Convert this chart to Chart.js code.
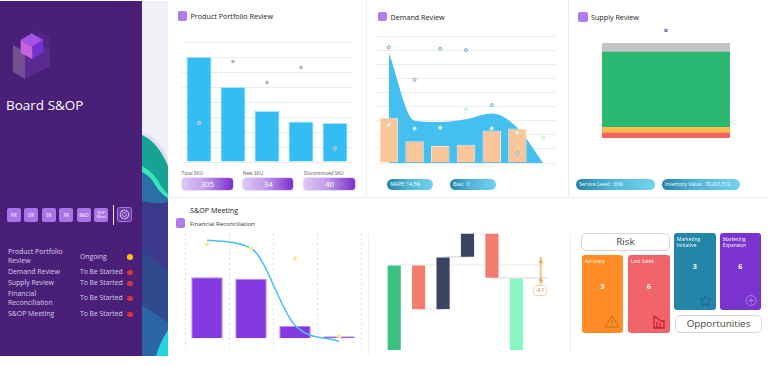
<!DOCTYPE html>
<html>
<head>
<meta charset="utf-8">
<title>Board S&amp;OP</title>
<script src="https://cdn.jsdelivr.net/npm/chart.js@4"></script>
<style>
    html, body { margin: 0; padding: 0; background: #fff; }
    body { width: 768px; height: 366px; overflow: hidden; position: relative; font-family: "Open Sans", sans-serif; color: #333; }
    canvas, .abs, svg { position: absolute; }
    .abs { white-space: nowrap; line-height: 1; }
    .side { color: #d9cdea; font-size: 6.9px; left: 8px; }
    .state { color: #d9cdea; font-size: 6.8px; left: 80px; }
    .dot { width: 5.5px; height: 5.5px; border-radius: 50%; left: 127px; }
    .nav { width: 14px; height: 14.5px; top: 207.5px; background: #a974e8; border-radius: 2px; color: #efe6fb; font-size: 4.5px; font-weight: 600; display: flex; align-items: center; justify-content: center; text-align: center; white-space: normal; }
    .icon { width: 9.5px; height: 9.5px; background: #b07ceb; border-radius: 2px; }
    .title { font-size: 7.2px; color: #222; }
    .small { font-size: 4.8px; color: #555; }
    .pill { height: 14px; top: 177.3px; border-radius: 4px; background: linear-gradient(90deg, #dcc8f4, #c09cea 45%, #7b2fc9); border: 1px solid #eadcf8; box-sizing: border-box; color: #fff; font-size: 8px; display: flex; align-items: center; justify-content: center; }
    .kpi { height: 11px; top: 179px; border-radius: 5.5px; background: linear-gradient(90deg, #2386a9, #50b5d8 45%, #74d2f0); color: #fff; font-size: 5px; display: flex; align-items: center; padding-left: 3px; box-sizing: border-box; }
    .box { height: 18.3px; border: 1px solid #d6d6d8; border-radius: 5px; background: #fff; box-sizing: border-box; display: flex; align-items: center; justify-content: center; color: #444; font-size: 9.8px; }
    .tile { border-radius: 3px; color: #fff; }
    .tile b { position: absolute; left: 3px; top: 3px; font-size: 4.9px; font-weight: 400; line-height: 1.35; white-space: normal; width: 36px; }
    .tile i { position: absolute; left: 0; right: 0; text-align: center; font-style: normal; font-weight: 700; font-size: 7.5px; }
</style>
</head>
<body>
    <!-- side panel -->
    <div class="abs" style="left:0;top:1px;width:142px;height:355px;background:#4a1f78"></div>
    <svg style="left:142px;top:1px" width="26" height="355" viewBox="142 1 26 355">
        <rect x="142" y="1" width="26" height="355" fill="#eef0f5"/>
        <path d="M142 131 Q158 138 168 158 V210 H142Z" fill="#e3dff0"/>
        <path d="M142 135 Q158 142 168 166 V210 H142Z" fill="#16a394"/>
        <path d="M142 168 Q156 176 168 200 V210 H142Z" fill="#2a70a8"/>
        <path d="M142 166 Q154 172 161 186 Q164 191 168 194 V198 Q160 194 154 183 Q150 176 142 172Z" fill="#3be5b8"/>
        <path d="M142 201 Q156 205 168 202 V356 H142Z" fill="#3c3a8c"/>
        <path d="M142 250 L168 272 V356 H142Z" fill="#2f4a8c"/>
        <path d="M142 305 L168 322 V356 H142Z" fill="#2a66a6"/>
        <path d="M156 356 Q160 342 168 330 V356Z" fill="#25d3d8"/>
    </svg>
    <svg style="left:0;top:0" width="70" height="90">
        <polygon points="13,45 25,52 25,79 13,72" fill="#71518f"/>
        <polygon points="25,52 50,38 50,66 25,79" fill="#5a2a92"/>
        <polygon points="38,30 50,36 50,50 38,44" fill="#522588"/>
        <polygon points="20.7,40 31.7,33.3 43.3,40 32.5,46.5" fill="#a553ea"/>
        <polygon points="20.7,40 32.5,46.5 32.7,59.3 20.7,52.7" fill="#c662dc"/>
        <polygon points="32.5,46.5 43.3,40 43.3,51.7 32.7,59.3" fill="#7432d4"/>
    </svg>
    <div class="abs" style="left:6px;top:96px;font-size:13.5px;color:#fff;line-height:18px">Board S&amp;OP</div>
    <div class="abs nav" style="left:6.7px">PR</div>
    <div class="abs nav" style="left:24px">DR</div>
    <div class="abs nav" style="left:41.7px">SR</div>
    <div class="abs nav" style="left:59.3px">FR</div>
    <div class="abs nav" style="left:77px">R&amp;O</div>
    <div class="abs nav" style="left:94.3px;font-size:3.8px;line-height:1.1">SOP Meet</div>
    <div class="abs" style="left:112.5px;top:205px;width:1px;height:20px;background:#e8e0f2"></div>
    <svg style="left:117px;top:207px" width="15" height="15">
        <rect x=".5" y=".5" width="14" height="14" rx="2" fill="#6b39a6" stroke="#a974e8"/>
        <circle cx="7.5" cy="7.5" r="4.2" fill="none" stroke="#d9cdea" stroke-width="1.2" stroke-dasharray="2 .6"/>
        <circle cx="7.5" cy="7.5" r="2" fill="none" stroke="#d9cdea" stroke-width=".8"/>
    </svg>
    <div class="abs side" style="top:249px">Product Portfolio</div>
    <div class="abs side" style="top:258px">Review</div>
    <div class="abs side" style="top:269px">Demand Review</div>
    <div class="abs side" style="top:280px">Supply Review</div>
    <div class="abs side" style="top:290.5px">Financial</div>
    <div class="abs side" style="top:300px">Reconciliation</div>
    <div class="abs side" style="top:311px">S&amp;OP Meeting</div>
    <div class="abs state" style="top:253.5px">Ongoing</div>
    <div class="abs state" style="top:269px">To Be Started</div>
    <div class="abs state" style="top:280px">To Be Started</div>
    <div class="abs state" style="top:295px">To Be Started</div>
    <div class="abs state" style="top:311px">To Be Started</div>
    <div class="abs dot" style="top:254px;background:#ffc107"></div>
    <div class="abs dot" style="top:269.5px;background:#e0352f"></div>
    <div class="abs dot" style="top:280.5px;background:#e0352f"></div>
    <div class="abs dot" style="top:295.5px;background:#e0352f"></div>
    <div class="abs dot" style="top:311.5px;background:#e0352f"></div>

    <!-- panel dividers -->
    <div class="abs" style="left:168px;top:197px;width:600px;height:1px;background:#eeeef1"></div>
    <div class="abs" style="left:365.5px;top:0;width:1.5px;height:197px;background:#eeeef1"></div>
    <div class="abs" style="left:567.5px;top:0;width:1.5px;height:197px;background:#eeeef1"></div>
    <div class="abs" style="left:368px;top:234px;width:1px;height:121px;background:#f0f0f3"></div>
    <div class="abs" style="left:570px;top:234px;width:1px;height:121px;background:#f0f0f3"></div>

    <!-- headings -->
    <div class="abs icon" style="left:177.5px;top:11px"></div>
    <div class="abs title" style="left:190.5px;top:13px">Product Portfolio Review</div>
    <div class="abs icon" style="left:377.7px;top:11.5px"></div>
    <div class="abs title" style="left:390.5px;top:13.5px">Demand Review</div>
    <div class="abs icon" style="left:578px;top:12px"></div>
    <div class="abs title" style="left:591px;top:14px">Supply Review</div>
    <div class="abs title" style="left:190px;top:207px">S&amp;OP Meeting</div>
    <div class="abs icon" style="left:175.7px;top:218px"></div>
    <div class="abs" style="left:190px;top:220.5px;font-size:6px">Financial Reconciliation</div>

    <canvas id="portfolioChart" width="176" height="126" style="left:179px;top:39px"></canvas>
    <canvas id="demandChart" width="186" height="133" style="left:372.5px;top:33px"></canvas>
    <canvas id="supplyChart" width="134" height="124" style="left:598.7px;top:17px"></canvas>
    <canvas id="financeChart" width="182" height="122" style="left:182.3px;top:230px"></canvas>
    <canvas id="bridgeChart" width="177" height="123" style="left:378.5px;top:230px"></canvas>

    <!-- kpi pills -->
    <div class="abs small" style="left:181.5px;top:170.5px">Total SKU</div>
    <div class="abs small" style="left:242.8px;top:170.5px">New SKU</div>
    <div class="abs small" style="left:304px;top:170.5px">Discontinued SKU</div>
    <div class="abs pill" style="left:181px;width:52.7px">305</div>
    <div class="abs pill" style="left:242.3px;width:52px">34</div>
    <div class="abs pill" style="left:303.3px;width:52.4px">40</div>
    <div class="abs kpi" style="left:387.3px;width:46px">MAPE: 14.5%</div>
    <div class="abs kpi" style="left:450px;width:46px">Bias: &nbsp;0</div>
    <div class="abs kpi" style="left:576.3px;width:78.4px">Service Level: &nbsp;30%</div>
    <div class="abs kpi" style="left:661.7px;width:78.3px">Inventory Value: &nbsp;78,201,512</div>

    <!-- bridge callout -->
    <div class="abs" style="left:533px;top:285px;width:14px;height:11px;border:1px solid #fbd3ae;border-radius:3px;background:#fff;box-sizing:border-box;font-size:4.6px;color:#c98a55;display:flex;align-items:center;justify-content:center">-4.3</div>

    <!-- risk and opportunity tiles -->
    <div class="abs box" style="left:581.3px;top:232.7px;width:88.4px">Risk</div>
    <div class="abs box" style="left:674.7px;top:314.7px;width:87.6px">Opportunities</div>
    <div class="abs tile" style="left:581.7px;top:255.3px;width:41.6px;height:77.7px;background:#ff8c26"><b>Accuracy</b><i style="top:28px">3</i></div>
    <div class="abs tile" style="left:628px;top:255.3px;width:41.7px;height:77.7px;background:#f0646a"><b>Lost Sales</b><i style="top:28px">6</i></div>
    <div class="abs tile" style="left:674px;top:232.7px;width:41.7px;height:77.6px;background:#2386a9"><b>Marketing Initiative</b><i style="top:30px">3</i></div>
    <div class="abs tile" style="left:719.7px;top:232.7px;width:41.6px;height:77.6px;background:#7a33cc"><b>Marketing Expansion</b><i style="top:30px">6</i></div>
    <svg style="left:0;top:0;pointer-events:none" width="768" height="366">
        <path d="M612 316 L619 327 H605Z" fill="none" stroke="#c9701f" stroke-width="1"/>
        <path d="M612 320 V323.5 M612 325 V326" stroke="#c9701f" stroke-width="1"/>
        <path d="M654 316 L661 321 H664 V328 H654Z M657 322 V328 M660 323 V328" fill="none" stroke="#c8202c" stroke-width="1.3"/>
        <path d="M705.5 295 L707 299 L711 299.3 L708 302 L709 306 L705.5 303.8 L702 306 L703 302 L700 299.3 L704 299Z" fill="none" stroke="#1a6486" stroke-width="1"/>
        <circle cx="751" cy="300.5" r="5" fill="none" stroke="#b88ee8" stroke-width=".8"/>
        <path d="M748 300.5 H754 M751 297.5 V303.5" stroke="#b88ee8" stroke-width=".8"/>
    </svg>

<script>
    // Product Portfolio Review
    const portfolioLabels = ['A', 'B', 'C', 'D', 'E'];
    const portfolioBars = [70, 50, 34, 27, 26];
    const portfolioDots = [26, 67, 53, 63, 9];

    // Demand Review
    const demandLabels = ['M1', 'M2', 'M3', 'M4', 'M5', 'M6', 'M7'];
    const demandArea = [78, 30, 29, 31, 35, 25, 0];
    const demandBars = [32, 15.5, 12, 13, 23, 24.5, null];
    const demandDotsBlue = [82, 59, 81, 80, 41, 7, null];
    const demandDotsGreen = [27, 24.5, 25, 38, 24.5, 21.6, 18];

    // Supply Review
    const supplyLabels = ['Supply'];
    const supplyRed = [5];
    const supplyOrange = [5.5];
    const supplyGreen = [75];
    const supplyGrey = [8.5];
    const supplyTarget = [107];

    // Financial Reconciliation
    const financeLabels = ['Q1', 'Q2', 'Q3', 'Q4'];
    const financeBars = [61, 59.6, 12.3, 2];
    const financeLine = [98, 90, 13, -3];
    const financeDots = [94, 90, 79.6, 2];

    // Bridge
    const bridgeLow = [0, 40.7, 40.7, 93, 72, 0];
    const bridgeHigh = [85, 85, 93, 116.7, 116.7, 72];
    const bridgeColors = ['#3cc183', '#f47c6e', '#3a4661', '#3a4661', '#f47c6e', '#8af5be'];
    const gapRange = [93, 65];
    const gapMarks = [88, 69.7];

    const PAD = 3;

    function baseOptions(yMin, yMax, yStep, showGrid) {
        return {
            responsive: false,
            animation: false,
            layout: { padding: PAD, autoPadding: false },
            plugins: { legend: { display: false }, tooltip: { enabled: false } },
            scales: {
                x: {
                    offset: true,
                    ticks: { display: false },
                    grid: { display: false, drawTicks: false },
                    border: { display: false },
                    afterFit: s => { s.height = 0; }
                },
                y: {
                    min: yMin,
                    max: yMax,
                    ticks: { display: false, stepSize: yStep },
                    grid: { display: showGrid, drawTicks: false, color: '#ececee' },
                    border: { display: false },
                    afterFit: s => { s.width = 0; }
                }
            }
        };
    }

    function dotSet(values, fill, stroke, radius) {
        return {
            type: 'line',
            data: values,
            showLine: false,
            pointRadius: radius,
            pointBackgroundColor: fill,
            pointBorderColor: stroke,
            pointBorderWidth: 1,
            order: 0
        };
    }

    new Chart(document.getElementById('portfolioChart'), {
        data: {
            labels: portfolioLabels,
            datasets: [
                dotSet(portfolioDots, '#8fa8b8', '#c3d4de', 1.6),
                {
                    type: 'bar',
                    data: portfolioBars,
                    backgroundColor: '#33bdf2',
                    borderColor: '#a9e3fa',
                    borderWidth: 1,
                    barPercentage: 0.74,
                    categoryPercentage: 1,
                    order: 1
                }
            ]
        },
        options: baseOptions(0, 80, 10, true)
    });

    new Chart(document.getElementById('demandChart'), {
        data: {
            labels: demandLabels,
            datasets: [
                dotSet(demandDotsBlue, '#dce7ee', '#7fb0cc', 1.6),
                dotSet(demandDotsGreen, '#f2fbf6', '#b5ecd2', 1.6),
                {
                    type: 'bar',
                    data: demandBars,
                    backgroundColor: '#fbc79a',
                    borderColor: '#fde3cc',
                    borderWidth: 1,
                    barPercentage: 0.72,
                    categoryPercentage: 1,
                    order: 1
                },
                {
                    type: 'line',
                    data: demandArea,
                    fill: 'origin',
                    backgroundColor: '#44c0f0',
                    borderWidth: 0,
                    pointRadius: 0,
                    cubicInterpolationMode: 'monotone',
                    order: 2
                }
            ]
        },
        options: baseOptions(0, 90, 10, true)
    });

    new Chart(document.getElementById('supplyChart'), {
        data: {
            labels: supplyLabels,
            datasets: [
                {
                    type: 'line',
                    data: supplyTarget,
                    showLine: false,
                    pointStyle: 'rect',
                    pointRadius: 1.6,
                    pointBackgroundColor: '#e8ecf4',
                    pointBorderColor: '#5c6ca8',
                    order: 0
                },
                { type: 'bar', data: supplyRed, backgroundColor: '#f4645f', order: 1 },
                { type: 'bar', data: supplyOrange, backgroundColor: '#fdbb4f', order: 1 },
                { type: 'bar', data: supplyGreen, backgroundColor: '#2bb873', order: 1 },
                { type: 'bar', data: supplyGrey, backgroundColor: '#c4c4c4', order: 1 }
            ].map(d => ({ ...d, barPercentage: 1, categoryPercentage: 1 }))
        },
        options: (() => {
            const o = baseOptions(0, 117.3, 200, false);
            o.scales.x.stacked = true;
            o.scales.y.stacked = true;
            return o;
        })()
    });

    new Chart(document.getElementById('financeChart'), {
        data: {
            labels: financeLabels,
            datasets: [
                dotSet(financeDots, '#fbe58f', '#fdf0c0', 2),
                {
                    type: 'line',
                    data: financeLine,
                    borderColor: '#4cc3ee',
                    borderWidth: 1.6,
                    pointRadius: 0,
                    cubicInterpolationMode: 'monotone',
                    order: 0.5
                },
                {
                    type: 'bar',
                    data: financeBars,
                    backgroundColor: '#8338e0',
                    borderColor: '#b58aee',
                    borderWidth: 1,
                    barPercentage: 0.716,
                    categoryPercentage: 1,
                    order: 1
                }
            ]
        },
        options: (() => {
            const o = baseOptions(-10.7, 105.3, 200, false);
            o.scales.x.grid = { display: true, drawTicks: false, color: '#dcdcdf', lineWidth: 1 };
            o.scales.x.border = { display: false, dash: [2, 3] };
            return o;
        })()
    });

    function levelLine(x0, x1, y, color, order) {
        return {
            type: 'line',
            data: [{ x: x0, y: y }, { x: x1, y: y }],
            borderColor: color,
            borderWidth: 1.3,
            pointRadius: 0,
            order: order
        };
    }

    new Chart(document.getElementById('bridgeChart'), {
        data: {
            datasets: [
                {
                    type: 'line',
                    data: gapRange.map(v => ({ x: 6, y: v })),
                    borderColor: 'rgba(251, 170, 100, 0.75)',
                    borderWidth: 2,
                    pointRadius: 0,
                    order: 0
                },
                {
                    type: 'line',
                    data: gapMarks.map(v => ({ x: 6, y: v })),
                    showLine: false,
                    pointStyle: 'triangle',
                    pointRadius: 2,
                    pointBackgroundColor: '#f79a4a',
                    pointBorderColor: '#f79a4a',
                    order: 0
                },
                {
                    type: 'bar',
                    data: bridgeLow.map((v, i) => ({ x: i, y: [v, bridgeHigh[i]] })),
                    backgroundColor: bridgeColors,
                    borderColor: '#ffffff55',
                    borderWidth: 1,
                    barThickness: 14.5,
                    order: 1
                },
                levelLine(0, 6, bridgeHigh[0], '#f1f1f3', 3),
                levelLine(1, 2, bridgeLow[1], '#e8e8ea', 2),
                levelLine(2, 3, bridgeHigh[2], '#dedee1', 2),
                levelLine(3, 4, bridgeHigh[3], '#e8e8ea', 2),
                levelLine(4, 6.3, bridgeLow[4], '#dedee1', 2)
            ]
        },
        options: (() => {
            const o = baseOptions(0, 116.7, 200, false);
            o.scales.x.type = 'linear';
            o.scales.x.offset = false;
            o.scales.x.min = -0.5;
            o.scales.x.max = 6.5;
            return o;
        })()
    });
</script>
</body>
</html>
